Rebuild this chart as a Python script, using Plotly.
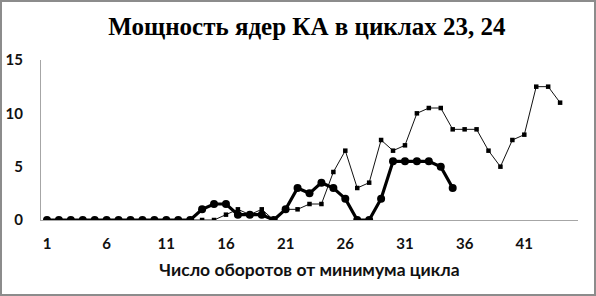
import plotly.graph_objects as go

rotations = list(range(1, 46))
thick_vals = [0]*13 + [1, 1.5, 1.5, 0.5, 0.5, 0.5, 0, 1, 3, 2.5, 3.5, 3, 2, 0, 0, 2, 5.5, 5.5, 5.5, 5.5, 5, 3]
thin_vals = [0]*13 + [0, 0, 0.5, 1, 0.5, 1, 0, 1, 1, 1.5, 1.5, 4.5, 6.5, 3, 3.5, 7.5, 6.5, 7, 10, 10.5, 10.5,
                      8.5, 8.5, 8.5, 6.5, 5, 7.5, 8, 12.5, 12.5, 11]
tick_labels = [1, 6, 11, 16, 21, 26, 31, 36, 41]

W, H = 596, 296
L, R, T, B = 41, 18, 60, 76
pw, ph = W - L - R, H - T - B

fig = go.Figure()
fig.add_trace(go.Scatter(
    x=rotations[:len(thin_vals)], y=thin_vals, mode="lines+markers", name="Цикл 24",
    line=dict(color="#111111", width=1),
    marker=dict(symbol="square", size=4.5, color="#000000"),
))
fig.add_trace(go.Scatter(
    x=rotations[:len(thick_vals)], y=thick_vals, mode="lines+markers", name="Цикл 23",
    line=dict(color="#000000", width=3.2),
    marker=dict(symbol="circle", size=8, color="#000000"),
))

fig.update_layout(
    width=W, height=H,
    margin=dict(l=L, r=R, t=T, b=B, pad=0, autoexpand=False),
    paper_bgcolor="white", plot_bgcolor="white",
    showlegend=False,
    title=dict(text="<b>Мощность ядер КА в циклах 23, 24</b>",
               font=dict(family="Liberation Serif", size=25, color="#000000"),
               x=0.515, xanchor="center", y=1 - 26/H, yanchor="middle", automargin=False),
    xaxis=dict(
        range=[0.5, 45.5], tickmode="array", tickvals=tick_labels,
        ticktext=[f"<b>{v}</b>" for v in tick_labels],
        showgrid=False, zeroline=False, showline=True, linecolor="#a6a6a6", linewidth=1,
        ticks="", ticklabelstandoff=10, automargin=False,
        tickfont=dict(family="Lato", size=15, color="#111111"),
        title=dict(text="<b>Число оборотов от минимума цикла</b>",
                   font=dict(family="Lato", size=17.5, color="#111111"), standoff=12),
    ),
    yaxis=dict(
        range=[0, 15], tickvals=[0, 5, 10, 15],
        ticktext=["<b>0</b>", "<b>5</b>", "<b>10</b>", "<b>15</b>"],
        showgrid=False, zeroline=False, showline=True, linecolor="#a6a6a6", linewidth=1,
        ticks="", ticklabelstandoff=14, automargin=False,
        tickfont=dict(family="Lato", size=15, color="#111111"),
    ),
    shapes=[dict(type="rect", xref="paper", yref="paper",
                 x0=(1 - L)/pw, x1=1 + (R - 1)/pw, y0=-(B - 1)/ph, y1=1 + (T - 1)/ph,
                 line=dict(color="#8c8c8c", width=2), fillcolor="rgba(0,0,0,0)", layer="above")],
)

fig.write_html("out.html", config={"displayModeBar": False},
               post_script="document.body.style.margin='0';")
